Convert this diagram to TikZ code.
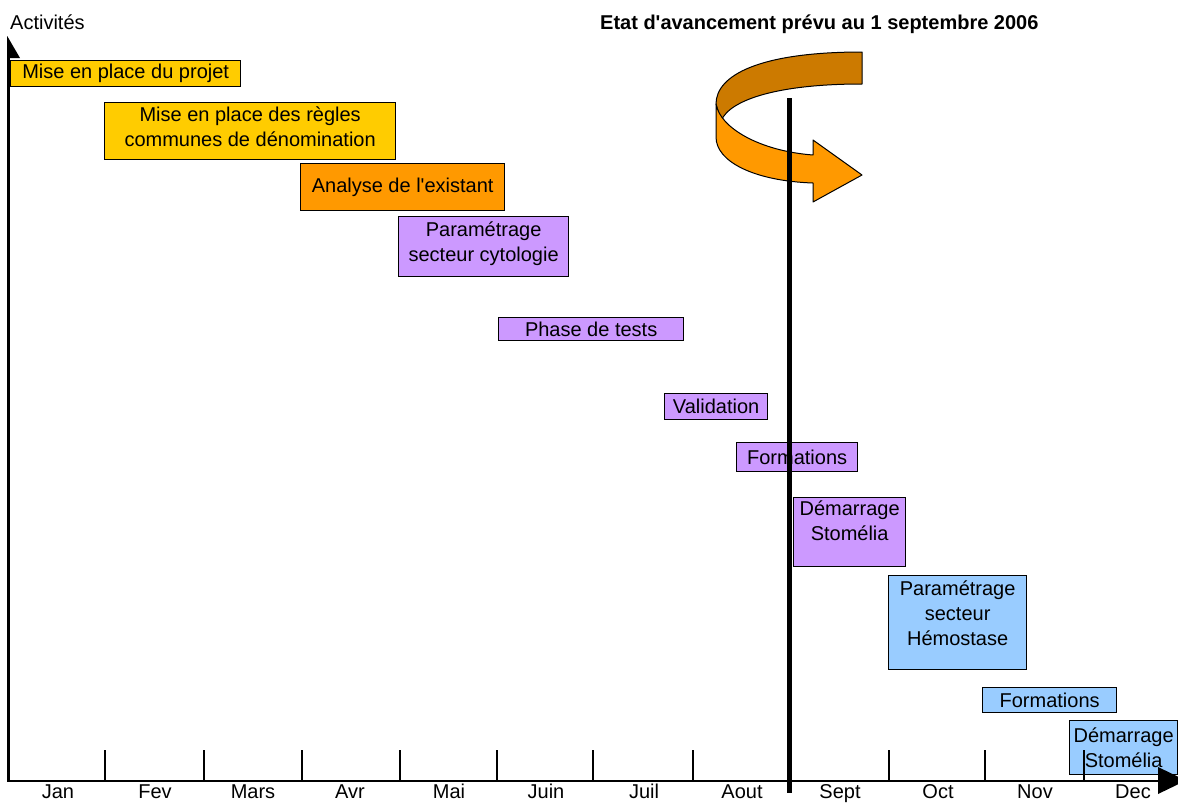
\documentclass[tikz,border=0pt]{standalone}
\usepackage{fontspec}
\setmainfont{Liberation Sans}
\definecolor{jaune}{HTML}{FFCC00}
\definecolor{orangeact}{HTML}{FF9900}
\definecolor{lilas}{HTML}{CC99FF}
\definecolor{bleu}{HTML}{99CCFF}
\definecolor{brun}{HTML}{CC7A00}
\begin{document}
\begin{tikzpicture}[x=1pt,y=-1pt,
  txt/.style={font=\fontsize{20}{25}\selectfont, inner sep=0pt},
  box/.style={txt, draw=black, line width=1.3pt, anchor=north west, align=center},
  toplabel/.style={txt, anchor=north, align=center},
  month/.style={txt, anchor=base},
  tick/.style={line width=1.4pt},
  axis/.style={line width=2.6pt},
  tip/.style={fill=black}]
\useasboundingbox (0,0) rectangle (1178,803);
\clip (0,0) rectangle (1178,803);

% titles
\node[txt, anchor=base west] (activites) at (10,29) {Activités};
\node[txt, anchor=base west, font=\fontsize{20}{25}\selectfont\bfseries] (titre) at (600,29) {Etat d\textquotesingle avancement prévu au 1 septembre 2006};

% activity bars
\node[box, fill=jaune, minimum width=230, minimum height=26] (p1) at (10,60) {Mise en place du projet};
\node[box, fill=jaune, minimum width=291, minimum height=57,
  label={[toplabel, yshift=-5pt]north:Mise en place des règles\\communes de dénomination}] (p2) at (104,102) {};
\node[box, fill=orangeact, minimum width=204, minimum height=47] (p3) at (300,163) {Analyse de l\textquotesingle existant};
\node[box, fill=lilas, minimum width=170, minimum height=60,
  label={[toplabel, yshift=-6pt]north:Paramétrage\\secteur cytologie}] (p4) at (398,216) {};
\node[box, fill=lilas, minimum width=185, minimum height=23] (p5) at (498,317) {Phase de tests};
\node[box, fill=lilas, minimum width=103, minimum height=26] (p6) at (664,393) {Validation};
\node[box, fill=lilas, minimum width=121, minimum height=29] (p7) at (736,442) {Formations};
\node[box, fill=lilas, minimum width=112, minimum height=69,
  label={[toplabel, yshift=-4pt]north:Démarrage\\Stomélia}] (p8) at (793,497) {};
\node[box, fill=bleu, minimum width=138, minimum height=94,
  label={[toplabel, yshift=-6pt]north:Paramétrage\\secteur\\Hémostase}] (p9) at (888,575) {};
\node[box, fill=bleu, minimum width=134, minimum height=25] (p10) at (982,687) {Formations};
\node[box, fill=bleu, minimum width=108, minimum height=54] (p11) at (1069,720) {Démarrage\\Stomélia};

% axes
\coordinate (o) at (8.5,781);
\coordinate (ytop) at (8.5,50);
\coordinate (xend) at (1160,781);
\draw[axis] (ytop) -- (o) -- (xend);
\fill[tip] (7.2,36) -- (7.2,58) -- (20,58) -- cycle;
\fill[tip] (1158,767) -- (1158,794) -- (1186,780.5) -- cycle;

% month ticks
\foreach \x/\n in {105/fev,204/mars,302/avr,400/mai,497/juin,593/juil,693/aout,889/oct,985/nov,1084/dec}
  \draw[tick] (\x,750) coordinate (t\n) -- (\x,781);

% month names
\foreach \x/\m in {58/Jan,155/Fev,253/Mars,350/Avr,449/Mai,546/Juin,644/Juil,742/Aout,840/Sept,938/Oct,1035/Nov,1133/Dec}
  \node[month] (m\m) at (\x,798) {\m};

% U-turn arrow: back band then front band with head
\draw[fill=brun, line width=1pt, line join=round]
  (862,52) -- (862,84)
  .. controls (780,84) and (730,99) .. (721,121)
  -- (716,104)
  .. controls (716,75) and (760,52) .. (862,52) -- cycle;
\draw[fill=orangeact, line width=1pt, line join=round]
  (716,104)
  .. controls (720,128) and (760,151) .. (813,155)
  -- (813,140) -- (862,175) -- (813,202) -- (813,183)
  .. controls (755,181) and (716,162) .. (716,137)
  -- cycle;

% status date line
\coordinate (now top) at (789.5,98);
\coordinate (now bottom) at (789.5,793);
\draw[line width=5pt] (now top) -- (now bottom);
\end{tikzpicture}
\end{document}
